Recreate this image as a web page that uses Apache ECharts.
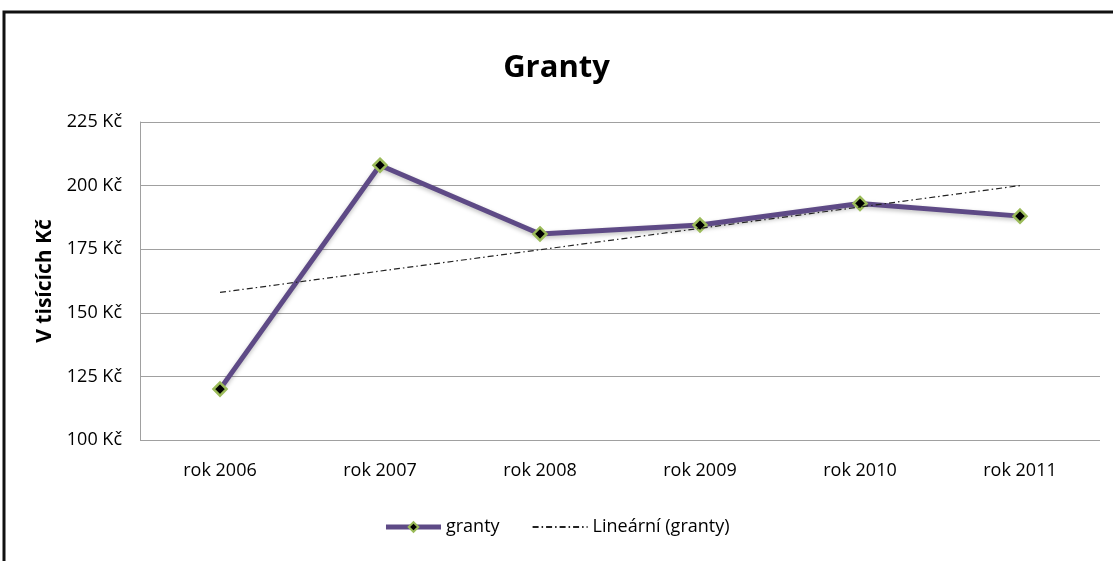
<!DOCTYPE html>
<html><head><meta charset="utf-8">
<script src="https://cdn.jsdelivr.net/npm/echarts@6/dist/echarts.min.js"></script>
<style>html,body{margin:0;padding:0;background:#fff}#c{width:1113px;height:561px}</style>
</head><body><div id="c"></div>
<script>
const categories = ['rok 2006','rok 2007','rok 2008','rok 2009','rok 2010','rok 2011'];
const granty = [120, 208, 181, 184.5, 193, 188];
const trend = [158, null, null, null, null, 200];
const yTicks = [100, 125, 150, 175, 200, 225];
const FONT = '"Open Sans",sans-serif';
const chart = echarts.init(document.getElementById('c'));
chart.setOption({
  animation: false,
  backgroundColor: '#fff',
  title: { text: 'Granty', left: 'center', top: 48, textStyle: { fontFamily: FONT, fontSize: 31, fontWeight: 'bold', color: '#000' } },
  grid: { left: 140, right: 13, top: 122, bottom: 121, containLabel: false },
  legend: {
    bottom: 20, left: 'center', itemGap: 32, itemWidth: 55, itemHeight: 12,
    textStyle: { fontFamily: FONT, fontSize: 18, color: '#000' },
    data: [
      { name: 'granty', lineStyle: { width: 5 } },
      { name: 'Lineární (granty)', itemStyle: { opacity: 0 } }
    ]
  },
  xAxis: {
    type: 'category', data: categories, boundaryGap: true,
    axisLine: { show: false }, axisTick: { show: false },
    axisLabel: { fontFamily: FONT, fontSize: 18, color: '#000', margin: 22 }
  },
  yAxis: {
    type: 'value', min: yTicks[0], max: yTicks[yTicks.length-1], interval: 25,
    name: 'V tisících Kč', nameLocation: 'middle', nameGap: 84,
    nameTextStyle: { fontFamily: FONT, fontSize: 21, fontWeight: 'bold', color: '#000' },
    axisLine: { show: true, lineStyle: { color: '#a0a0a0', width: 1 } },
    axisTick: { show: false },
    splitLine: { lineStyle: { color: '#a0a0a0', width: 1 } },
    axisLabel: { fontFamily: FONT, fontSize: 18, color: '#000', margin: 18, formatter: v => v + ' Kč' }
  },
  series: [
    {
      name: 'granty', type: 'line', data: granty, z: 3,
      lineStyle: { color: '#5e4a86', width: 5, shadowColor: 'rgba(0,0,0,0.25)', shadowBlur: 4, shadowOffsetY: 2 },
      itemStyle: { color: '#000', borderColor: '#9bbb59', borderWidth: 2.5 },
      symbol: 'diamond', symbolSize: 13, showSymbol: true
    },
    {
      name: 'Lineární (granty)', type: 'line', data: trend, connectNulls: true, z: 4,
      symbol: 'none',
      lineStyle: { color: '#222', width: 1.2, type: [6, 3, 1.5, 3] },
      itemStyle: { color: '#222' }
    }
  ],
  graphic: [
    { type: 'rect', shape: { x: 4, y: 12, width: 1200, height: 600 }, style: { fill: 'none', stroke: '#111', lineWidth: 3 }, z: 100 }
  ]
});
</script></body></html>
